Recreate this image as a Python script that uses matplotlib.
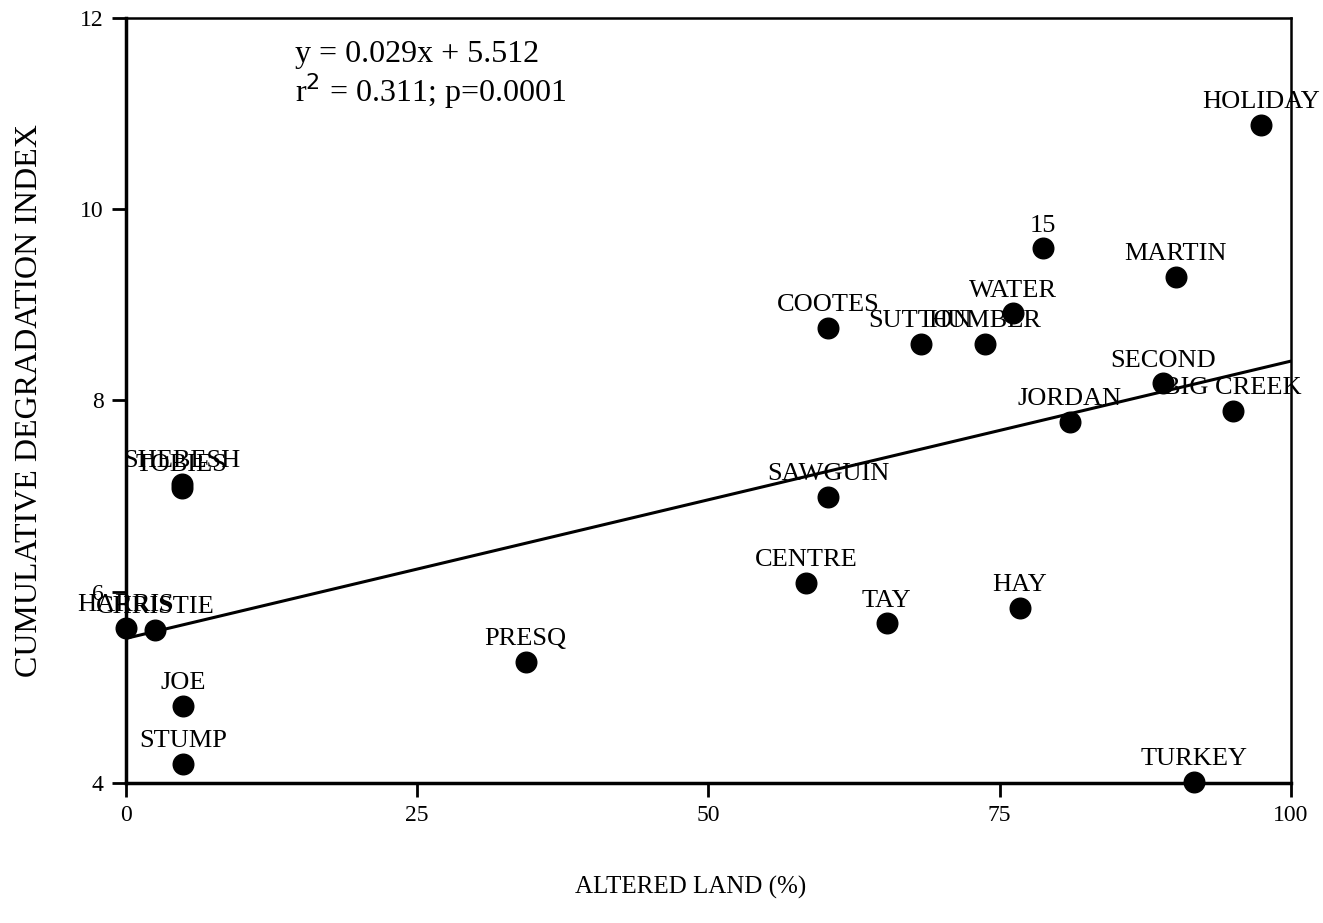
import matplotlib
matplotlib.use('Agg')
import matplotlib.pyplot as plt
import numpy as np

plt.rcParams['font.family'] = ['Liberation Serif', 'DejaVu Serif']

# data
sites = ['HOLIDAY', '15', 'MARTIN', 'WATER', 'COOTES', 'SUTTON', 'HUMBER',
         'SECOND', 'BIG CREEK', 'JORDAN', 'SAWGUIN', 'CENTRE', 'TAY', 'HAY',
         'PRESQ', 'TURKEY', 'SHEBESH', 'TOBIES', 'HARRIS', 'CHRISTIE',
         'JOE', 'STUMP']
altered = [97.4, 78.7, 90.1, 76.1, 60.3, 68.2, 73.7,
           89.0, 95.0, 81.0, 60.3, 58.4, 65.3, 76.7,
           34.3, 91.7, 4.8, 4.8, 0.0, 2.5,
           4.9, 4.9]
cdi = [10.88, 9.59, 9.29, 8.91, 8.76, 8.59, 8.59,
       8.18, 7.89, 7.78, 6.99, 6.09, 5.67, 5.83,
       5.27, 4.01, 7.13, 7.09, 5.62, 5.60,
       4.81, 4.20]

slope = 0.029
intercept = 5.512

fig = plt.figure(figsize=(13.23, 9.23), dpi=100)
ax = fig.add_axes([0.0952, 0.1517, 0.8806, 0.8288])

ax.scatter(altered, cdi, s=220, color='black', zorder=3, clip_on=False)

xl = np.array([0, 100])
ax.plot(xl, slope * xl + intercept, color='black', lw=2.2, zorder=2)

for name, x, y in zip(sites, altered, cdi):
    ax.annotate(name, (x, y), xytext=(0, 12), textcoords='offset points',
                ha='center', va='baseline', fontsize=19, zorder=4)

ax.text(0.145, 0.952, 'y = 0.029x + 5.512', transform=ax.transAxes,
        fontsize=23, va='center')
ax.text(0.145, 0.904, 'r$^2$ = 0.311; p=0.0001', transform=ax.transAxes,
        fontsize=23, va='center')

ax.set_xlim(0, 100)
ax.set_ylim(4, 12)
ax.set_xticks([0, 25, 50, 75, 100])
ax.set_yticks([4, 6, 8, 10, 12])
ax.tick_params(direction='out', length=10, width=2, labelsize=17, pad=6)

for s in ['left', 'bottom']:
    ax.spines[s].set_linewidth(2.5)
for s in ['top', 'right']:
    ax.spines[s].set_linewidth(1.8)

ax.set_xlabel('ALTERED LAND (%)', fontsize=18, va='center')
ax.xaxis.set_label_coords(0.485, -0.137)
ax.set_ylabel('CUMULATIVE DEGRADATION INDEX', fontsize=23, va='center')
ax.yaxis.set_label_coords(-0.083, 0.5)

plt.savefig('out.png', dpi=100)
